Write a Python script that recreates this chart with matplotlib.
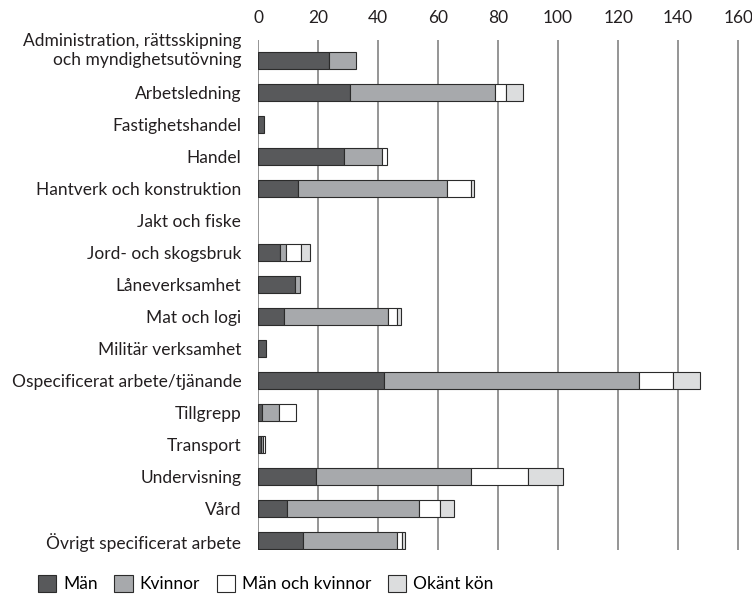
import numpy as np
import matplotlib.pyplot as plt
from matplotlib.patches import Patch
from matplotlib.transforms import ScaledTranslation

plt.rcParams['font.family'] = ['Lato', 'DejaVu Sans']

# ── Data ──────────────────────────────────────────────────────────────────────
categories = [
    "Administration, rättsskipning\noch myndighetsutövning",
    "Arbetsledning",
    "Fastighetshandel",
    "Handel",
    "Hantverk och konstruktion",
    "Jakt och fiske",
    "Jord- och skogsbruk",
    "Låneverksamhet",
    "Mat och logi",
    "Militär verksamhet",
    "Ospecificerat arbete/tjänande",
    "Tillgrepp",
    "Transport",
    "Undervisning",
    "Vård",
    "Övrigt specificerat arbete",
]
man = [23.6, 30.8, 1.9, 28.7, 13.4, 0, 7.4, 12.3, 8.7, 2.7, 42.1, 1.3, 1.0, 19.4, 9.6, 15.0]
kvinnor = [9.0, 48.1, 0, 12.7, 49.7, 0, 1.8, 1.7, 34.7, 0, 85.0, 5.7, 0.6, 51.6, 43.9, 31.4]
man_och_kvinnor = [0, 3.6, 0, 1.7, 7.8, 0, 5.2, 0, 3.0, 0, 11.3, 5.7, 0.8, 19.0, 7.2, 1.7]
okant = [0, 5.8, 0, 0, 1.1, 0, 2.9, 0, 1.4, 0, 8.9, 0, 0, 11.7, 4.7, 0.8]

series = [
    ("Män", man, "#58595b"),
    ("Kvinnor", kvinnor, "#a7a9ac"),
    ("Män och kvinnor", man_och_kvinnor, "#ffffff"),
    ("Okänt kön", okant, "#dcddde"),
]

FS = 12.5

# ── Plot ──────────────────────────────────────────────────────────────────────
fig = plt.figure(figsize=(7.52, 6.05), dpi=100)
ax = fig.add_axes([258 / 752, 55 / 605, 482 / 752, 510 / 605])

y = np.arange(len(categories))
left = np.zeros(len(categories))
for name, vals, color in series:
    vals = np.array(vals, dtype=float)
    m = vals > 0   # skip empty segments so no stray edge lines
    ax.barh(y[m], vals[m], left=left[m], height=0.53, color=color,
            edgecolor="#2b2b2b", linewidth=0.8, zorder=3)
    left += vals

ax.set_xlim(0, 160.6)
ax.set_ylim(len(categories) - 1 + 0.29, -0.64)
ax.set_xticks(np.arange(0, 161, 20))
ax.xaxis.tick_top()
ax.tick_params(axis="x", length=0, pad=10, labelsize=FS, colors="#231f20")
ax.set_yticks(y)
ax.set_yticklabels(categories, fontsize=FS, color="#231f20")
ax.tick_params(axis="y", length=0, pad=12)

# two-line label sits above its bar in the original
lbl0 = ax.get_yticklabels()[0]
lbl0.set_transform(lbl0.get_transform() + ScaledTranslation(0, 9 / 72, fig.dpi_scale_trans))

ax.grid(axis="x", color="#8c8c8c", linewidth=1.3, zorder=0)
for s in ax.spines.values():
    s.set_visible(False)

handles = [Patch(facecolor=c, edgecolor="#2b2b2b", linewidth=0.8, label=n)
           for n, _, c in series]
fig.legend(handles=handles, loc="lower left", bbox_to_anchor=(0.03, -0.005),
           ncol=4, frameon=False, fontsize=FS, handlelength=1.05,
           handleheight=1.05, handletextpad=0.4, columnspacing=0.95)

fig.savefig("out.png", dpi=100)
